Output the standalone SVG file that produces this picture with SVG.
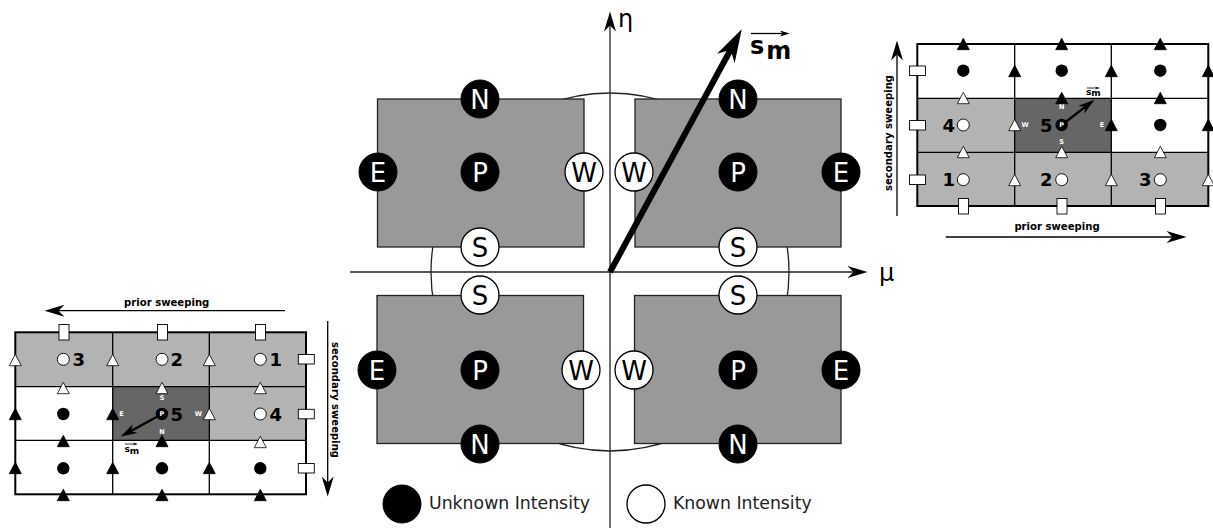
<svg xmlns="http://www.w3.org/2000/svg" width="1213" height="528" viewBox="0 0 1213 528">
<style>
text{font-family:"DejaVu Sans",sans-serif;fill:#000}
.b{font-weight:bold}
.main{fill:#999;stroke:#222;stroke-width:1.3}
.u{fill:#000;stroke:#000;stroke-width:1}
.k{fill:#fff;stroke:#000;stroke-width:1.3}
.lu{font-size:26px;fill:#fff;text-anchor:middle}
.lk{font-size:26px;text-anchor:middle}
.ax{fill:none;stroke:#222;stroke-width:1.3}
.sw{fill:none;stroke:#000;stroke-width:1.3}
.gl{fill:none;stroke:#000;stroke-width:1.3}
.frame{fill:none;stroke:#000;stroke-width:2}
.c1{fill:#b3b3b3}
.c2{fill:#666}
.tb{fill:#000;stroke:#000;stroke-width:.8}
.tw{fill:#fff;stroke:#000;stroke-width:.8}
.port{fill:#fff;stroke:#000;stroke-width:.9}
.gk{fill:#fff;stroke:#000;stroke-width:.9}
.gu{fill:#000}
.num{font-size:18px;font-weight:bold}
.sl{font-size:6.5px;font-weight:bold;fill:#fff;text-anchor:middle}
.cap{font-size:10.1px;font-weight:bold;text-anchor:middle}
.leg{font-size:17.3px;fill:#222}
.tiny{font-weight:bold;font-size:9px}
</style>
<defs>
<marker id="h21" markerUnits="userSpaceOnUse" viewBox="0 0 20 12" markerWidth="21" markerHeight="12" refX="6.5" refY="6" orient="auto"><path d="M20,6 L0,0 L6,6 L0,12Z"/></marker>
<marker id="h36" markerUnits="userSpaceOnUse" viewBox="0 0 20 12" markerWidth="36" markerHeight="20" refX="6.5" refY="6" orient="auto"><path d="M20,6 L0,0 L6,6 L0,12Z"/></marker>
<marker id="h14" markerUnits="userSpaceOnUse" viewBox="0 0 20 12" markerWidth="18" markerHeight="10" refX="6.5" refY="6" orient="auto"><path d="M20,6 L0,0 L6,6 L0,12Z"/></marker>
<marker id="h10" markerUnits="userSpaceOnUse" viewBox="0 0 20 12" markerWidth="11" markerHeight="6" refX="6.5" refY="6" orient="auto"><path d="M20,6 L0,0 L6,6 L0,12Z"/></marker>
<marker id="h5" markerUnits="userSpaceOnUse" viewBox="0 0 20 12" markerWidth="5" markerHeight="3.5" refX="6.5" refY="6" orient="auto"><path d="M20,6 L0,0 L6,6 L0,12Z"/></marker>
<path id="tri" d="M0,-5.7 L6,5.7 L-6,5.7Z"/>
</defs>

<g id="connectors">
<circle cx="610" cy="272" r="179" class="ax"/>
<rect x="377.5" y="99" width="206.5" height="148" class="main"/>
<rect x="635" y="99" width="206" height="148" class="main"/>
<rect x="377" y="295.5" width="206.5" height="148" class="main"/>
<rect x="634.5" y="295.5" width="206.5" height="148" class="main"/>
<line x1="610" y1="528" x2="610" y2="25" class="ax" marker-end="url(#h21)"/>
<line x1="350" y1="272" x2="854" y2="272" class="ax" marker-end="url(#h21)"/>
<line x1="610" y1="272" x2="731" y2="49" stroke="#000" stroke-width="6" marker-end="url(#h36)"/>
<line x1="751" y1="33.5" x2="783" y2="33.5" stroke="#000" stroke-width="1.3" marker-end="url(#h10)"/>
</g>
<text x="618" y="27" style="font-size:24px" fill="#222">η</text>
<text x="879" y="281" style="font-size:24px" fill="#222">μ</text>
<text x="750" y="54" class="b" style="font-size:24px">s<tspan dx="2" dy="5">m</tspan></text>

<g id="n1"><circle cx="480" cy="99" r="19" class="u"/><text x="480" y="108.5" class="lu">N</text></g>
<g id="n2"><circle cx="738" cy="99" r="19" class="u"/><text x="738" y="108.5" class="lu">N</text></g>
<g id="p1"><circle cx="480" cy="172" r="19" class="u"/><text x="480" y="181.5" class="lu">P</text></g>
<g id="p2"><circle cx="738" cy="172" r="19" class="u"/><text x="738" y="181.5" class="lu">P</text></g>
<g id="e1"><circle cx="378" cy="172" r="19" class="u"/><text x="378" y="181.5" class="lu">E</text></g>
<g id="e2"><circle cx="841" cy="172" r="19" class="u"/><text x="841" y="181.5" class="lu">E</text></g>
<g id="w1"><circle cx="584" cy="172" r="19" class="k"/><text x="584" y="181.5" class="lk">W</text></g>
<g id="w2"><circle cx="634" cy="172" r="19" class="k"/><text x="634" y="181.5" class="lk">W</text></g>
<g id="s1"><circle cx="480" cy="247" r="19" class="k"/><text x="480" y="256.5" class="lk">S</text></g>
<g id="s2"><circle cx="738" cy="247" r="19" class="k"/><text x="738" y="256.5" class="lk">S</text></g>
<g id="s3"><circle cx="480" cy="295" r="19" class="k"/><text x="480" y="304.5" class="lk">S</text></g>
<g id="s4"><circle cx="738" cy="295" r="19" class="k"/><text x="738" y="304.5" class="lk">S</text></g>
<g id="e3"><circle cx="377" cy="370" r="19" class="u"/><text x="377" y="379.5" class="lu">E</text></g>
<g id="p3"><circle cx="480" cy="370" r="19" class="u"/><text x="480" y="379.5" class="lu">P</text></g>
<g id="w3"><circle cx="581" cy="370" r="19" class="k"/><text x="581" y="379.5" class="lk">W</text></g>
<g id="w4"><circle cx="634" cy="370" r="19" class="k"/><text x="634" y="379.5" class="lk">W</text></g>
<g id="p4"><circle cx="738" cy="370" r="19" class="u"/><text x="738" y="379.5" class="lu">P</text></g>
<g id="e4"><circle cx="841" cy="370" r="19" class="u"/><text x="841" y="379.5" class="lu">E</text></g>
<g id="n3"><circle cx="480" cy="444" r="19" class="u"/><text x="480" y="453.5" class="lu">N</text></g>
<g id="n4"><circle cx="738" cy="444" r="19" class="u"/><text x="738" y="453.5" class="lu">N</text></g>

<g id="legend-unknown"><circle cx="402" cy="504" r="19" class="u"/><text x="429" y="509" class="leg">Unknown Intensity</text></g>
<g id="legend-known"><circle cx="646" cy="504" r="19" class="k"/><text x="673" y="509" class="leg">Known Intensity</text></g>

<g id="grid-top-right">
<rect x="917.3" y="98.3" width="97.4" height="54" class="c1"/>
<rect x="1014.7" y="98.3" width="96.6" height="54" class="c2"/>
<rect x="917.3" y="152.3" width="291" height="53.7" class="c1"/>
<path d="M1014.7,44V206M1111.3,44V206M917.3,98.3H1208.3M917.3,152.3H1208.3" class="gl"/>
<rect x="917.3" y="44" width="291" height="162" class="frame"/>
<g class="gu"><circle cx="963.3" cy="70.7" r="6.2"/><circle cx="1061.7" cy="70.7" r="6.2"/><circle cx="1160.3" cy="70.7" r="6.2"/><circle cx="1160.3" cy="125" r="6.2"/></g>
<g class="gk"><circle cx="963.3" cy="125" r="6"/><circle cx="963.3" cy="179.7" r="6"/><circle cx="1061.7" cy="179.7" r="6"/><circle cx="1160.3" cy="179.7" r="6"/></g>
<g class="tb">
<use href="#tri" x="963.3" y="44"/><use href="#tri" x="1061.7" y="44"/><use href="#tri" x="1160.3" y="44"/>
<use href="#tri" x="1014.7" y="71"/><use href="#tri" x="1111.3" y="71"/><use href="#tri" x="1208.3" y="71"/>
<use href="#tri" x="1061.7" y="98"/><use href="#tri" x="1160.3" y="98"/>
<use href="#tri" x="1111.3" y="125"/><use href="#tri" x="1208.3" y="125"/>
</g>
<g class="tw">
<use href="#tri" x="963.3" y="98"/><use href="#tri" x="1014.7" y="125"/>
<use href="#tri" x="963.3" y="152"/><use href="#tri" x="1061.7" y="152"/><use href="#tri" x="1160.3" y="152"/>
<use href="#tri" x="1014.7" y="180"/><use href="#tri" x="1111.3" y="180"/><use href="#tri" x="1208.3" y="180"/>
</g>
<g class="port">
<rect x="909.5" y="66" width="16" height="9.5"/><rect x="909.5" y="120.5" width="16" height="9.5"/><rect x="909.5" y="175" width="16" height="9.5"/>
<rect x="958.5" y="198.5" width="10" height="15.5"/><rect x="1057" y="198.5" width="10" height="15.5"/><rect x="1155.5" y="198.5" width="10" height="15.5"/>
</g>
<line x1="1061.7" y1="125" x2="1085.5" y2="106.6" stroke="#000" stroke-width="2.4" marker-end="url(#h14)"/>
<circle cx="1061.7" cy="125" r="6.2" class="gu"/>
<text x="1061.7" y="127.4" class="sl">P</text><text x="1061.7" y="109" class="sl">N</text><text x="1061.7" y="144" class="sl">S</text><text x="1025" y="127.4" class="sl">W</text><text x="1102" y="127.4" class="sl">E</text>
<text x="942.5" y="131.8" class="num">4</text><text x="942.5" y="186" class="num">1</text><text x="1040" y="131.8" class="num">5</text><text x="1040" y="186" class="num">2</text><text x="1139" y="186" class="num">3</text>
<line x1="1087" y1="88" x2="1096.6" y2="88" stroke="#000" stroke-width=".8" marker-end="url(#h5)"/>
<text x="1086" y="94.5" class="tiny">s<tspan dy="1.5">m</tspan></text>
<line x1="897" y1="216" x2="897" y2="54" class="sw" marker-end="url(#h21)"/>
<line x1="945.7" y1="237" x2="1173" y2="237" class="sw" marker-end="url(#h21)"/>
<text x="1057" y="230" class="cap">prior sweeping</text>
<text transform="translate(892,133) rotate(-90)" class="cap">secondary sweeping</text>
</g>

<g id="grid-bottom-left">
<rect x="15.3" y="332.3" width="290.7" height="54.4" class="c1"/>
<rect x="112.7" y="386.7" width="96.6" height="53.6" class="c2"/>
<rect x="209.3" y="386.7" width="96.7" height="53.6" class="c1"/>
<path d="M112.7,332.3V494.3M209.3,332.3V494.3M15.3,386.7H306M15.3,440.3H306" class="gl"/>
<rect x="15.3" y="332.3" width="290.7" height="162" class="frame"/>
<g class="gu"><circle cx="63.3" cy="414" r="6.2"/><circle cx="63.3" cy="468.3" r="6.2"/><circle cx="162" cy="468.3" r="6.2"/><circle cx="260.3" cy="468.3" r="6.2"/></g>
<g class="gk"><circle cx="63.3" cy="359.3" r="6"/><circle cx="162" cy="359.3" r="6"/><circle cx="260.3" cy="359.3" r="6"/><circle cx="260.3" cy="414" r="6"/></g>
<g class="tb">
<use href="#tri" x="15.3" y="414"/><use href="#tri" x="112.7" y="414"/>
<use href="#tri" x="63.3" y="441"/><use href="#tri" x="162" y="441"/>
<use href="#tri" x="15.3" y="468"/><use href="#tri" x="112.7" y="468"/><use href="#tri" x="209.3" y="468"/>
<use href="#tri" x="63.3" y="495"/><use href="#tri" x="162" y="495"/><use href="#tri" x="260.3" y="495"/>
</g>
<g class="tw">
<use href="#tri" x="15.3" y="360"/><use href="#tri" x="112.7" y="360"/><use href="#tri" x="209.3" y="360"/>
<use href="#tri" x="63.3" y="388"/><use href="#tri" x="162" y="388"/><use href="#tri" x="260.3" y="388"/>
<use href="#tri" x="209.3" y="414"/><use href="#tri" x="260.3" y="442"/>
</g>
<g class="port">
<rect x="59" y="324.5" width="10" height="15.5"/><rect x="157.5" y="324.5" width="10" height="15.5"/><rect x="255.5" y="324.5" width="10" height="15.5"/>
<rect x="298.3" y="354.5" width="16" height="9.5"/><rect x="298.3" y="409.3" width="16" height="9.5"/><rect x="298.3" y="463.5" width="16" height="9.5"/>
</g>
<line x1="162" y1="414" x2="130.5" y2="431.2" stroke="#000" stroke-width="2.4" marker-end="url(#h14)"/>
<circle cx="162" cy="414" r="6.2" class="gu"/>
<text x="162" y="416.4" class="sl">P</text><text x="162" y="399.7" class="sl">S</text><text x="162" y="434.4" class="sl">N</text><text x="121.5" y="416.4" class="sl">E</text><text x="198.3" y="416.4" class="sl">W</text>
<text x="72.5" y="366" class="num">3</text><text x="170.5" y="366" class="num">2</text><text x="269.5" y="366" class="num">1</text><text x="170.5" y="420.8" class="num">5</text><text x="269.5" y="420.8" class="num">4</text>
<line x1="125" y1="444" x2="134.6" y2="444" stroke="#000" stroke-width=".8" marker-end="url(#h5)"/>
<text x="124.5" y="452" class="tiny">s<tspan dy="1.5">m</tspan></text>
<line x1="285" y1="310.7" x2="58" y2="310.7" class="sw" marker-end="url(#h21)"/>
<line x1="327.7" y1="321" x2="327.7" y2="483" class="sw" marker-end="url(#h21)"/>
<text x="166.7" y="306" class="cap">prior sweeping</text>
<text transform="translate(332,400) rotate(90)" class="cap">secondary sweeping</text>
</g>
</svg>
